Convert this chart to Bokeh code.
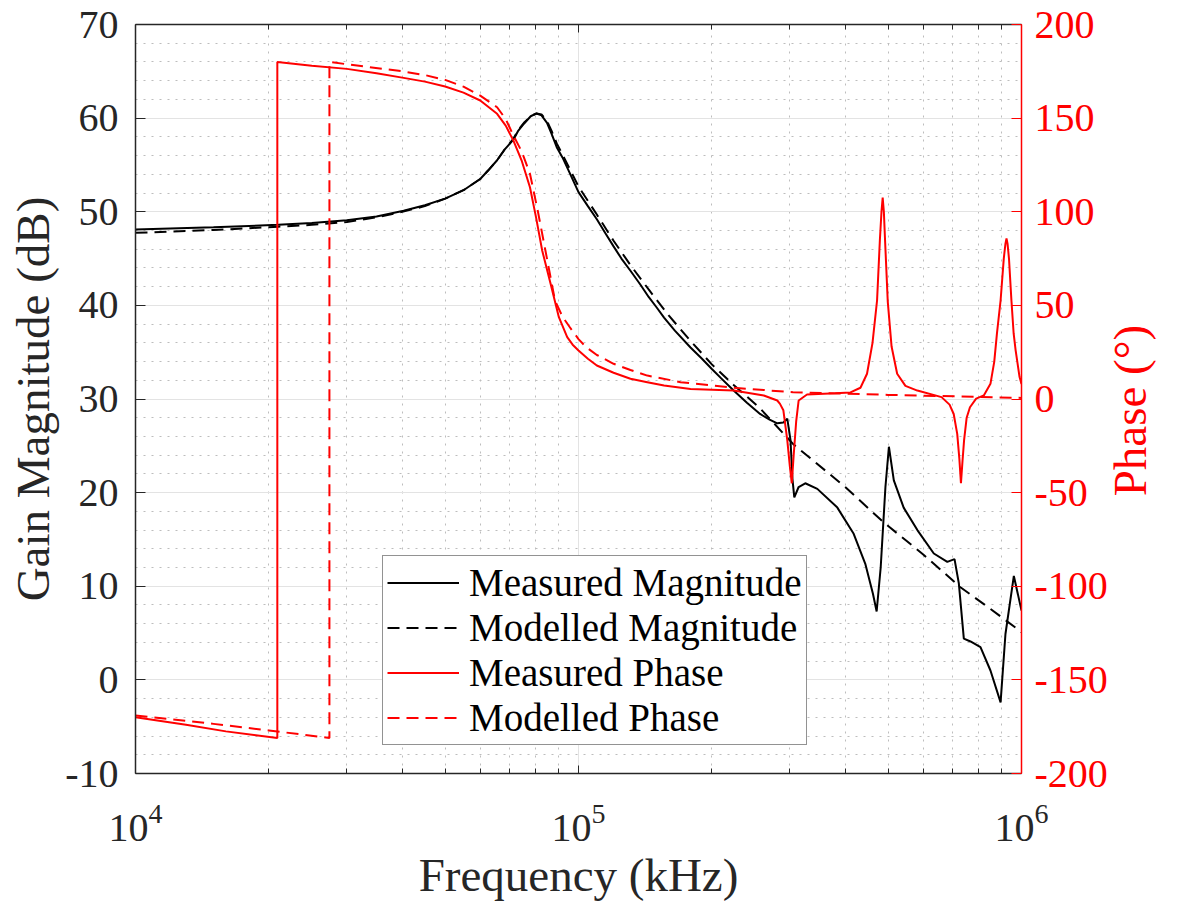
import math
from bokeh.plotting import figure
from bokeh.models import (Range1d, LinearAxis, LogAxis, FixedTicker, SingleIntervalTicker,
                          Legend, LegendItem)
from bokeh.embed import file_html
from bokeh.resources import INLINE

FONT = "Liberation Serif"
GRAY = "#262626"
RED = "#ff0000"

# ---------------- data (frequency in Hz) ----------------
meas_mag_f = [10000, 15000, 21000, 25000, 30000, 35000, 40300, 45000, 50000, 55000, 60000,
              62500, 65500, 68000, 71300, 73000, 75300, 78000, 80400, 82500, 84900, 87000,
              89300, 92000, 95000, 100000, 105000, 110000, 115000, 120000, 125000, 131000,
              138000, 144000, 150000, 156000, 165000, 179000, 190000, 200000, 210000, 224000,
              240000, 257000, 270000, 281000, 290000, 296000, 301000, 304000, 307000, 314000,
              325000, 346000, 384000, 418000, 444000, 462000, 471000, 481000, 493000, 502000,
              515000, 542000, 582000, 634000, 680000, 706000, 722000, 741000, 767000, 808000,
              851000, 897000, 920000, 961000, 1000000]
meas_mag_db = [48.1, 48.35, 48.6, 48.8, 49.1, 49.5, 50.1, 50.7, 51.4, 52.3, 53.5,
               54.4, 55.5, 56.6, 57.7, 58.6, 59.4, 60.2, 60.5, 60.3, 59.5, 58.3,
               56.9, 55.8, 54.4, 52.1, 50.6, 49.2, 47.7, 46.3, 45.0, 43.7,
               42.2, 40.9, 39.8, 38.7, 37.3, 35.5, 34.3, 33.2, 32.2, 30.9,
               29.6, 28.4, 27.8, 27.4, 27.5, 27.9, 25.6, 21.5, 19.5, 20.6,
               21.0, 20.4, 18.4, 15.6, 12.4, 9.2, 7.3, 12.0, 20.6, 24.9,
               21.3, 18.4, 16.0, 13.5, 12.6, 12.9, 10.3, 4.4, 4.1, 3.5,
               1.0, -2.4, 4.9, 11.1, 7.4]

mod_mag_f = [10000, 15000, 21000, 25000, 30000, 35000, 40000, 45000, 50000, 55000, 60000,
             62500, 65500, 68000, 71300, 73000, 75300, 78000, 80400, 82500, 84900, 87000,
             89300, 92000, 95000, 100000, 110000, 120000, 131000, 144000, 160000, 179000,
             200000, 224000, 257000, 305000, 400000, 489000, 600000, 728000, 850000, 1000000]
mod_mag_db = [47.75, 48.05, 48.4, 48.6, 48.9, 49.4, 50.0, 50.6, 51.4, 52.3, 53.5,
              54.4, 55.5, 56.6, 57.8, 58.7, 59.5, 60.2, 60.5, 60.4, 59.7, 58.6,
              57.3, 56.1, 54.8, 52.7, 49.7, 46.9, 44.3, 41.7, 38.9, 36.2,
              33.7, 31.5, 29.0, 25.2, 20.6, 16.8, 13.4, 9.9, 7.6, 5.1]

meas_ph_f = [10000, 13000, 16000, 20900, 20900, 25000, 30000, 35000, 40300, 45000, 50000,
             55000, 60000, 65500, 68500, 71300, 74500, 77700, 80200, 82800, 86500, 90300,
             94300, 97000, 100000, 105000, 110000, 120000, 131000, 143000, 156000, 179000,
             224000, 262000, 281000, 285000, 290000, 296000, 300000, 303000, 306000, 310000,
             314000, 328000, 380000, 411000, 433000, 448000, 461000, 472000, 479000, 483000,
             486000, 489000, 492000, 499000, 509000, 524000, 547000, 582000, 660000, 688000,
             703000, 716000, 724000, 730000, 736000, 742000, 752000, 765000, 790000, 822000,
             851000, 868000, 880000, 897000, 912000, 920000, 925000, 930000, 937000, 949000,
             960000, 970000, 990000, 1000000]
meas_ph_deg = [-170, -174, -177.5, -181, 180, 178, 176.3, 174, 171.5, 169.5, 166.9,
               163.6, 159.4, 152.3, 146, 138, 127, 113.1, 97, 79.3, 61.5, 43.7,
               33, 29, 25.9, 21.5, 17.9, 14, 10.8, 9.0, 7.2, 5.4,
               4.5, 1.9, -0.8, -2.6, -6, -22, -36, -45, -30, -12,
               -0.8, 2.4, 3.1, 3.5, 6, 13.5, 30, 52.6, 85, 100,
               107.6, 100, 85, 52, 28, 13.5, 7, 4.5, 1.0, -3,
               -8, -18.6, -32, -45, -33, -22, -10, -4.4, 0.2, 1.9,
               8.1, 20, 34.8, 52.6, 75, 83, 85.7, 83, 75, 52.6,
               35, 26, 11.7, 8]

mod_ph_f = [10000, 15000, 20000, 27400, 27400, 33000, 40000, 45000, 50000, 55000, 60000,
            65500, 68500, 71000, 74500, 77700, 81000, 84200, 88500, 92000, 95600, 100000,
            104000, 110000, 120000, 131000, 143000, 170000, 224000, 305000, 500000, 1000000]
mod_ph_deg = [-169, -173.5, -177, -181, 180, 177.5, 175, 173, 170.4, 166.8, 162,
              155.8, 149.5, 141.6, 132, 120.3, 100, 79.3, 52.6, 44, 38.3, 32,
              27.7, 23.5, 18.8, 15.5, 12.5, 9.0, 6, 3.6, 2.2, 0.6]

x_major = [1e4, 1e5, 1e6]
x_minor = [m * 10 ** e for e in (4, 5) for m in range(2, 10)]

# ---------------- figure ----------------
p = figure(width=1186, height=911, x_axis_type="log",
           x_range=Range1d(1e4, 1e6), y_range=Range1d(-10, 70),
           output_backend="svg", toolbar_location=None,
           min_border_left=135, min_border_right=165, min_border_top=24, min_border_bottom=138,
           background_fill_color="white", border_fill_color="white", outline_line_color=None)
p.extra_y_ranges = {"phase": Range1d(-200, 200)}

xticker = FixedTicker(ticks=x_major, minor_ticks=x_minor)
yticker = SingleIntervalTicker(interval=10, num_minor_ticks=5)

# bottom axis
xa = p.xaxis[0]
xa.ticker = xticker
xa.axis_label = "Frequency (kHz)"
xa.axis_label_text_font = FONT
xa.axis_label_text_font_size = "47px"
xa.axis_label_text_font_style = "normal"
xa.axis_label_text_color = GRAY
xa.axis_label_standoff = 5
xa.major_label_text_font = FONT
xa.major_label_text_font_size = "40px"
xa.major_label_text_color = GRAY
xa.major_label_standoff = 30
xa.axis_line_color = GRAY
xa.axis_line_width = 1.5
xa.major_tick_in = 8
xa.major_tick_out = 0
xa.minor_tick_in = 5
xa.minor_tick_out = 0
xa.major_tick_line_color = GRAY
xa.minor_tick_line_color = GRAY

# left axis
ya = p.yaxis[0]
ya.ticker = yticker
ya.axis_label = "Gain Magnitude (dB)"
ya.axis_label_text_font = FONT
ya.axis_label_text_font_size = "47px"
ya.axis_label_text_font_style = "normal"
ya.axis_label_text_color = GRAY
ya.axis_label_standoff = 3
ya.major_label_text_font = FONT
ya.major_label_text_font_size = "40px"
ya.major_label_text_color = GRAY
ya.major_label_standoff = 13
ya.major_label_overrides = {-10: "-10"}
ya.axis_line_color = GRAY
ya.axis_line_width = 1.5
ya.major_tick_in = 10
ya.major_tick_out = 0
ya.minor_tick_line_color = None
ya.major_tick_line_color = GRAY

# top axis (ticks only)
top = LogAxis(ticker=xticker, major_label_text_font_size="0px", major_label_standoff=0,
              major_label_overrides={1e4: "", 1e5: "", 1e6: ""},
              axis_line_color=GRAY, axis_line_width=1.5,
              major_tick_in=8, major_tick_out=0, minor_tick_in=5, minor_tick_out=0,
              major_tick_line_color=GRAY, minor_tick_line_color=GRAY)
p.add_layout(top, "above")

# right axis (phase)
ra = LinearAxis(y_range_name="phase", ticker=SingleIntervalTicker(interval=50),
                major_label_text_font=FONT, major_label_text_font_size="40px",
                major_label_text_color=RED, major_label_standoff=9,
                major_label_overrides={-50: "-50", -100: "-100", -150: "-150", -200: "-200"},
                axis_line_color=RED, axis_line_width=1.5,
                major_tick_in=10, major_tick_out=0, major_tick_line_color=RED,
                minor_tick_line_color=None)
p.add_layout(ra, "right")

# right-hand title, reading bottom-to-top: a label-only axis outside the phase axis
title_axis = LinearAxis(y_range_name="phase", ticker=FixedTicker(ticks=[-52], minor_ticks=[]),
                        major_label_overrides={-52: "Phase (°)"},
                        major_label_orientation=math.pi / 2,
                        major_label_text_font=FONT, major_label_text_font_size="47px",
                        major_label_text_color=RED, major_label_standoff=20,
                        major_label_text_baseline="top",
                        axis_line_color=None, major_tick_line_color=None,
                        minor_tick_line_color=None, major_tick_in=0, major_tick_out=0)
p.add_layout(title_axis, "right")

# grids
p.xgrid.ticker = xticker
p.xgrid.grid_line_color = "#e3e3e3"
p.xgrid.grid_line_width = 1
p.xgrid.minor_grid_line_color = "#bdbdbd"
p.xgrid.minor_grid_line_dash = "2 6"
p.ygrid.ticker = yticker
p.ygrid.grid_line_color = "#e3e3e3"
p.ygrid.grid_line_width = 1
p.ygrid.minor_grid_line_color = "#bdbdbd"
p.ygrid.minor_grid_line_dash = "2 6"

# lines
r1 = p.line(meas_mag_f, meas_mag_db, line_color="black", line_width=2)
r2 = p.line(mod_mag_f, mod_mag_db, line_color="black", line_width=2, line_dash="12 7")
r3 = p.line(meas_ph_f, meas_ph_deg, line_color=RED, line_width=2, y_range_name="phase")
r4 = p.line(mod_ph_f, mod_ph_deg, line_color=RED, line_width=2, line_dash="12 7",
            y_range_name="phase")

legend = Legend(items=[LegendItem(label="Measured Magnitude", renderers=[r1]),
                       LegendItem(label="Modelled Magnitude", renderers=[r2]),
                       LegendItem(label="Measured Phase", renderers=[r3]),
                       LegendItem(label="Modelled Phase", renderers=[r4])],
                location=(247, 28), margin=0, padding=4, spacing=0,
                label_text_font=FONT, label_text_font_size="39px", label_text_color="black",
                label_height=45, glyph_height=45, glyph_width=72, label_standoff=10,
                border_line_color=GRAY, border_line_width=1.5,
                background_fill_color="white", background_fill_alpha=1)
p.add_layout(legend)

open("out.html", "w").write(file_html(p, INLINE))
